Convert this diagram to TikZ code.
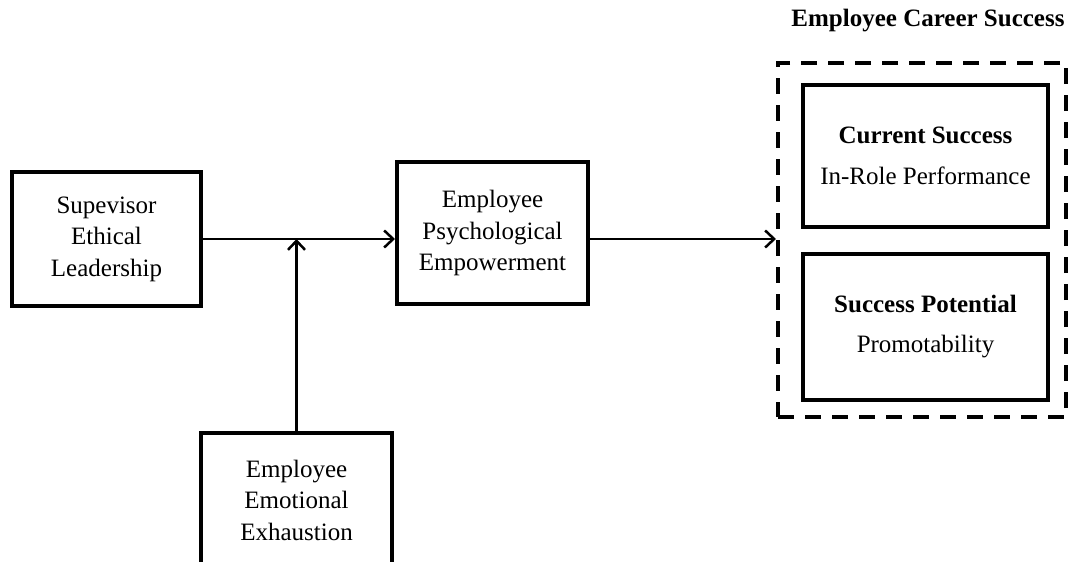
\documentclass[tikz,border=0pt]{standalone}
\usepackage{fontspec}
\setmainfont{Liberation Serif}
\usepackage{tikz}
\usetikzlibrary{shapes.geometric, arrows.meta, positioning}
\tikzstyle{construct} = [rectangle, line width=4pt, draw=black, align=center, inner sep=0pt, font=\fontsize{25}{31.5}\selectfont]
\tikzstyle{outcome} = [rectangle, line width=4pt, draw=black, align=center, inner sep=0pt, minimum width=245pt, font=\fontsize{25}{31}\selectfont]
\tikzstyle{careerbox} = [rectangle, line width=4pt, draw=black, dash pattern=on 16pt off 11pt, minimum width=288pt, minimum height=354pt]
\tikzstyle{arrow} = [line width=2.5pt, -{Straight Barb[length=9pt, width=17pt, line width=2.5pt]}]

\begin{document}
\begin{tikzpicture}[x=1pt, y=-1pt]
    \useasboundingbox (0,0) rectangle (1068,562);
    \node (Career) [careerbox] at (922,240) {};
    \node (CareerTitle) [font=\fontsize{25}{31}\selectfont\bfseries, anchor=base] at (928,27) {Employee Career Success};
    \node (Current) [outcome, minimum height=142pt] at (925.5,156) {\textbf{Current Success}\\[10pt]In-Role Performance};
    \node (Potential) [outcome, minimum height=146pt] at (925.5,327) {\textbf{Success Potential}\\[9pt]Promotability};
    \node (Leader) [construct, minimum width=189pt, minimum height=134pt] at (106.5,239) {Supevisor\\Ethical\\Leadership};
    \node (Empower) [construct, minimum width=191pt, minimum height=142pt] at (492.5,233) {Employee\\Psychological\\Empowerment};
    \node (Exhaust) [construct, minimum width=191pt, minimum height=134pt] at (296.5,500) {Employee\\Emotional\\Exhaustion};
    \draw [arrow] (Leader.east) -- (Leader.east -| Empower.west);
    \draw [arrow] (Exhaust.north) -- (Exhaust.north |- Leader.east);
    \draw [arrow] (Empower.east |- Leader.east) -- (Leader.east -| Career.west);
\end{tikzpicture}
\end{document}
